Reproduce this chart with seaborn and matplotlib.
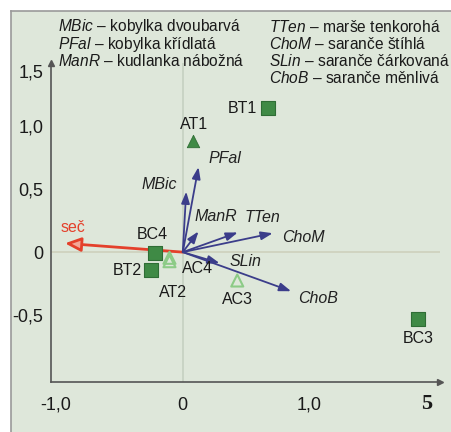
import pandas as pd
import seaborn as sns
import matplotlib.pyplot as plt
from matplotlib.transforms import ScaledTranslation

# sites (samples) in the ordination
siteNames = ["BT1", "AT1", "BC4", "BT2", "AC4", "AT2", "AC3", "BC3"]
siteX = [0.67, 0.08, -0.22, -0.25, -0.105, -0.105, 0.43, 1.855]
siteY = [1.14, 0.88, -0.01, -0.14, -0.045, -0.072, -0.225, -0.53]
siteGroup = ["sq", "tri", "sq", "sq", "open", "open", "open", "sq"]

# species / environment vectors
vecNames = ["seč", "PFal", "MBic", "ManR", "TTen", "ChoM", "SLin", "ChoB"]
vecX = [-0.93, 0.124, 0.027, 0.124, 0.434, 0.71, 0.29, 0.855]
vecY = [0.07, 0.675, 0.48, 0.164, 0.156, 0.15, -0.087, -0.31]

legendLeft = [("MBic", "kobylka dvoubarvá"), ("PFal", "kobylka křídlatá"),
              ("ManR", "kudlanka nábožná")]
legendRight = [("TTen", "marše tenkorohá"), ("ChoM", "saranče štíhlá"),
               ("SLin", "saranče čárkovaná"), ("ChoB", "saranče měnlivá")]

xTicks = [-1.0, -0.5, 0, 0.5, 1.0, 1.5, 2.0]
xTickLabels = ["-1,0", "", "0", "", "1,0", "", ""]
yTicks = [-1.0, -0.5, 0, 0.5, 1.0, 1.5]
yTickLabels = ["", "-0,5", "0", "0,5", "1,0", "1,5"]

sns.set_style("white")
plt.rcParams['font.family'] = ['Liberation Sans', 'DejaVu Sans']
plt.rcParams['mathtext.fontset'] = 'custom'
plt.rcParams['mathtext.it'] = 'Liberation Sans:italic'
plt.rcParams['mathtext.rm'] = 'Liberation Sans'

df = pd.DataFrame({"name": siteNames, "x": siteX, "y": siteY, "grp": siteGroup})

W, H = 452, 432
fig = plt.figure(figsize=(W / 100, H / 100), dpi=100)
fig.patch.set_facecolor("white")

# green panel with a grey frame on the left and top only
bgax = fig.add_axes([11 / W, -0.05, 1.0, 1 - 11 / H + 0.05])
bgax.set_facecolor("#dee7da")
bgax.set_xticks([])
bgax.set_yticks([])
for s in ["right", "bottom"]:
    bgax.spines[s].set_visible(False)
for s in ["left", "top"]:
    bgax.spines[s].set_color("#9a9a9a")
    bgax.spines[s].set_linewidth(1.2)
bgax.set_zorder(0)

ax = fig.add_axes([51 / W, (H - 382) / H, 389 / W, 319 / H])
ax.set_zorder(2)
ax.patch.set_alpha(0)
ax.set_xlim(-1.04, 2.03)
ax.set_ylim(-1.03, 1.5)

green = "#3f8a45"
ax.axvline(0, color="#c7d2c3", lw=1.3, zorder=1)
ax.axhline(0, color="#cfd3bf", lw=1.3, zorder=1)

# vectors
navy = "#3b3d8a"
for i, n in enumerate(vecNames):
    if n == "seč":
        ax.annotate("", xy=(vecX[i], vecY[i]), xytext=(0, 0),
                    arrowprops=dict(arrowstyle="-|>,head_length=0.8,head_width=0.35",
                                    fc="#f4a898", ec="#e4402b", lw=2.0,
                                    mutation_scale=12, shrinkA=0, shrinkB=0), zorder=3)
    else:
        ax.annotate("", xy=(vecX[i], vecY[i]), xytext=(0, 0),
                    arrowprops=dict(arrowstyle="-|>,head_length=0.7,head_width=0.25",
                                    color=navy, lw=1.3, mutation_scale=10,
                                    shrinkA=0, shrinkB=0), zorder=3)

vecOffsets = {"seč": (8, 16), "PFal": (26, 9), "MBic": (-27, 7), "ManR": (17, 15),
              "TTen": (25, 15), "ChoM": (31, -4), "SLin": (26, 2), "ChoB": (27, -7)}
for i, n in enumerate(vecNames):
    dx, dy = vecOffsets[n]
    if n == "seč":
        ax.annotate(n, (vecX[i], vecY[i]), xytext=(dx * 0.72, dy * 0.72),
                    textcoords="offset points", ha="center", va="center",
                    color="#e4402b", fontsize=11.5)
    else:
        ax.annotate(n, (vecX[i], vecY[i]), xytext=(dx * 0.72, dy * 0.72),
                    textcoords="offset points", ha="center", va="center",
                    color="#222222", fontsize=11.5, style="italic")

# sites
sq = df[df.grp == "sq"]
sns.scatterplot(data=sq, x="x", y="y", marker="s", s=95, color=green,
                edgecolor="#2f6d35", linewidth=0.8, ax=ax, zorder=4, legend=False)
tri = df[df.grp == "tri"]
sns.scatterplot(data=tri, x="x", y="y", marker="^", s=80, color=green,
                edgecolor="#2f6d35", linewidth=0.6, ax=ax, zorder=4, legend=False)
op = df[df.grp == "open"]
sns.scatterplot(data=op, x="x", y="y", marker="^", s=75, facecolor="none",
                edgecolor="#8ccb86", linewidth=1.5, ax=ax, zorder=4, legend=False)

siteOffsets = {"BT1": (-25, 0), "AT1": (1, 17), "BC4": (-3, 19), "BT2": (-24, -1),
               "AC4": (28, -11), "AT2": (3, -31), "AC3": (0, -19), "BC3": (0, -20)}
for _, r in df.iterrows():
    dx, dy = siteOffsets[r["name"]]
    ax.annotate(r["name"], (r["x"], r["y"]), xytext=(dx * 0.72, dy * 0.72),
                textcoords="offset points", ha="center", va="center",
                fontsize=11.5, color="#1a1a1a")

# axes styling
for s in ["top", "right"]:
    ax.spines[s].set_visible(False)
for s in ["left", "bottom"]:
    ax.spines[s].set_color("#555555")
    ax.spines[s].set_linewidth(1.2)
ax.plot(1, 0, ">", color="#555555", ms=4, transform=ax.transAxes, clip_on=False)
ax.plot(0, 1, "^", color="#555555", ms=4, transform=ax.transAxes, clip_on=False)

ax.set_xticks(xTicks)
ax.set_xticklabels(xTickLabels)
ax.set_yticks(yTicks)
ax.set_yticklabels(yTickLabels)
ax.tick_params(axis="both", direction="inout", length=5, width=1, color="#555555",
               labelsize=13, labelcolor="#1a1a1a")
ax.tick_params(axis="x", pad=8)
ax.tick_params(axis="y", pad=3)
ax.set_xlabel("")
ax.set_ylabel("")
# the top label sits a little below the arrow tip
top = ax.get_yticklabels()[-1]
top.set_transform(top.get_transform() + ScaledTranslation(0, -8 / 100, fig.dpi_scale_trans))

# species legend text
for j, (ab, full) in enumerate(legendLeft):
    fig.text(58 / W, 1 - (27 + 17 * j) / H, rf"$\mathit{{{ab}}}$ – {full}",
             ha="left", va="center", fontsize=11.2, color="#1a1a1a")
for j, (ab, full) in enumerate(legendRight):
    fig.text(269 / W, 1 - (27 + 17 * j) / H, rf"$\mathit{{{ab}}}$ – {full}",
             ha="left", va="center", fontsize=11.2, color="#1a1a1a")

fig.text(427 / W, 1 - 404 / H, "5", family="Liberation Serif", weight="bold",
         fontsize=16, ha="center", va="center", color="#1a1a1a")

fig.savefig("out.png", dpi=100)
